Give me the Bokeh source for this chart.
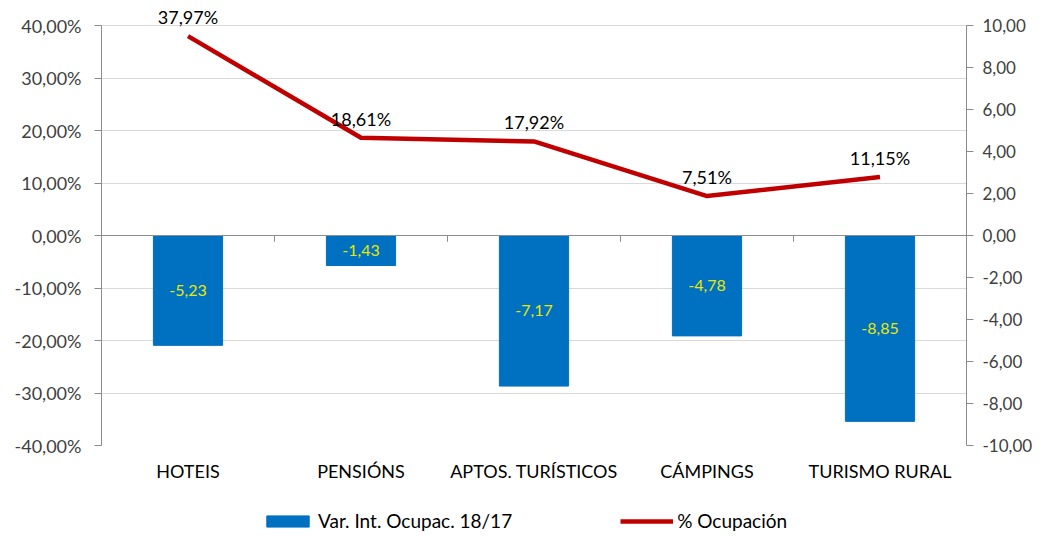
from bokeh.plotting import figure
from bokeh.layouts import column
from bokeh.models import (Range1d, LinearAxis, FixedTicker, CustomJSTickFormatter,
                          ColumnDataSource, Legend, LegendItem, Span, LabelSet)
from bokeh.core.properties import value
from bokeh.embed import file_html
from bokeh.resources import INLINE

categories = ["HOTEIS", "PENSIÓNS", "APTOS. TURÍSTICOS", "CÁMPINGS", "TURISMO RURAL"]
var_int = [-5.23, -1.43, -7.17, -4.78, -8.85]
ocupacion = [37.97, 18.61, 17.92, 7.51, 11.15]
left_ticks = [-40, -30, -20, -10, 0, 10, 20, 30, 40]
right_ticks = [-10, -8, -6, -4, -2, 0, 2, 4, 6, 8, 10]
series_names = ["Var. Int. Ocupac. 18/17", "% Ocupación"]

FONT = "Lato"
GRID = "#d9d9d9"
AXIS = "#8c8c8c"
TXT = "#404040"
BAR_COLOR = "#0070C0"
LINE_COLOR = "#C00000"

bar_src = ColumnDataSource(dict(
    x=categories, top=var_int, mid=[v / 2 for v in var_int],
    lab=[("%.2f" % v).replace(".", ",") for v in var_int]))
line_src = ColumnDataSource(dict(
    x=categories, y=ocupacion,
    lab=[("%.2f" % v).replace(".", ",") + "%" for v in ocupacion]))

# ranges extended a little above 40% / 10 so the top data label is not clipped
p = figure(x_range=categories, y_range=Range1d(-40, 44), width=1035, height=484,
           output_backend="svg", toolbar_location=None,
           min_border_left=101, min_border_right=62, min_border_top=4, min_border_bottom=39)
p.outline_line_color = None
p.extra_y_ranges = {"right": Range1d(-10, 11)}

# grid
p.xgrid.grid_line_color = None
p.ygrid.grid_line_color = GRID
p.ygrid.grid_line_width = 1
p.ygrid.ticker = FixedTicker(ticks=left_ticks)

# left axis
ya = p.yaxis[0]
ya.ticker = FixedTicker(ticks=left_ticks)
ya.bounds = (-40, 40)
ya.formatter = CustomJSTickFormatter(code="return tick.toFixed(2).replace('.', ',') + '%';")
ya.axis_line_color = AXIS
ya.major_tick_line_color = AXIS
ya.major_tick_out = 7
ya.major_tick_in = 0
ya.minor_tick_line_color = None
ya.major_label_text_font = FONT
ya.major_label_text_font_size = "18px"
ya.major_label_text_color = TXT
ya.major_label_standoff = 13

# right axis
ra = LinearAxis(y_range_name="right")
ra.ticker = FixedTicker(ticks=right_ticks)
ra.bounds = (-10, 10)
ra.formatter = CustomJSTickFormatter(code="return tick.toFixed(2).replace('.', ',');")
ra.axis_line_color = AXIS
ra.major_tick_line_color = AXIS
ra.major_tick_out = 7
ra.major_tick_in = 0
ra.minor_tick_line_color = None
ra.major_label_text_font = FONT
ra.major_label_text_font_size = "17px"
ra.major_label_text_color = TXT
ra.major_label_standoff = 9
p.add_layout(ra, "right")

# x axis (labels only, at bottom)
xa = p.xaxis[0]
xa.axis_line_color = None
xa.major_tick_line_color = None
xa.major_label_text_font = FONT
xa.major_label_text_font_size = "18px"
xa.major_label_text_color = "#000000"
xa.major_label_standoff = 8

# zero line with category boundary ticks
p.add_layout(Span(location=0, dimension="width", line_color=AXIS, line_width=1))
n = len(categories)
p.segment(x0=[i for i in range(n + 1)], x1=[i for i in range(n + 1)],
          y0=[0] * (n + 1), y1=[-1.2] * (n + 1), line_color=AXIS, line_width=1)

p.vbar(x="x", top="top", bottom=0, width=0.4, source=bar_src, y_range_name="right",
       fill_color=BAR_COLOR, line_color=BAR_COLOR)
p.line(x="x", y="y", source=line_src, line_color=LINE_COLOR, line_width=4.5,
       line_join="round")

p.add_layout(LabelSet(x="x", y="mid", text="lab", source=bar_src, y_range_name="right",
                      text_align="center", text_baseline="middle", text_color="#E8E800",
                      text_font=value(FONT), text_font_size="16px"))
p.add_layout(LabelSet(x="x", y="y", text="lab", source=line_src, y_offset=8,
                      text_align="center", text_baseline="bottom", text_color="#000000",
                      text_font=value(FONT), text_font_size="18px"))

# legend strip below the chart (its proxy glyphs lie outside its visible ranges)
lf = figure(width=1035, height=48, output_backend="svg", toolbar_location=None,
            x_range=Range1d(100, 101), y_range=Range1d(100, 101),
            min_border=0, min_border_left=0, min_border_right=0,
            min_border_top=0, min_border_bottom=0)
lf.axis.visible = False
lf.grid.visible = False
lf.outline_line_color = None
idx = list(range(n))
lbar = lf.vbar(x=idx, top=var_int, bottom=0, width=0.4,
               fill_color=BAR_COLOR, line_color=BAR_COLOR)
lline = lf.line(x=idx, y=ocupacion, line_color=LINE_COLOR, line_width=4.5)
legend = Legend(items=[LegendItem(label=series_names[0], renderers=[lbar]),
                       LegendItem(label=series_names[1], renderers=[lline])],
                orientation="horizontal", location=(160, 0),
                label_text_font=FONT, label_text_font_size="19px", label_text_color="#000000",
                glyph_width=53, glyph_height=14, spacing=108, border_line_color=None,
                background_fill_alpha=0, margin=0, padding=4, label_standoff=4)
lf.add_layout(legend)

layout = column(p, lf, spacing=0)
open("out.html", "w").write(file_html(layout, INLINE))
